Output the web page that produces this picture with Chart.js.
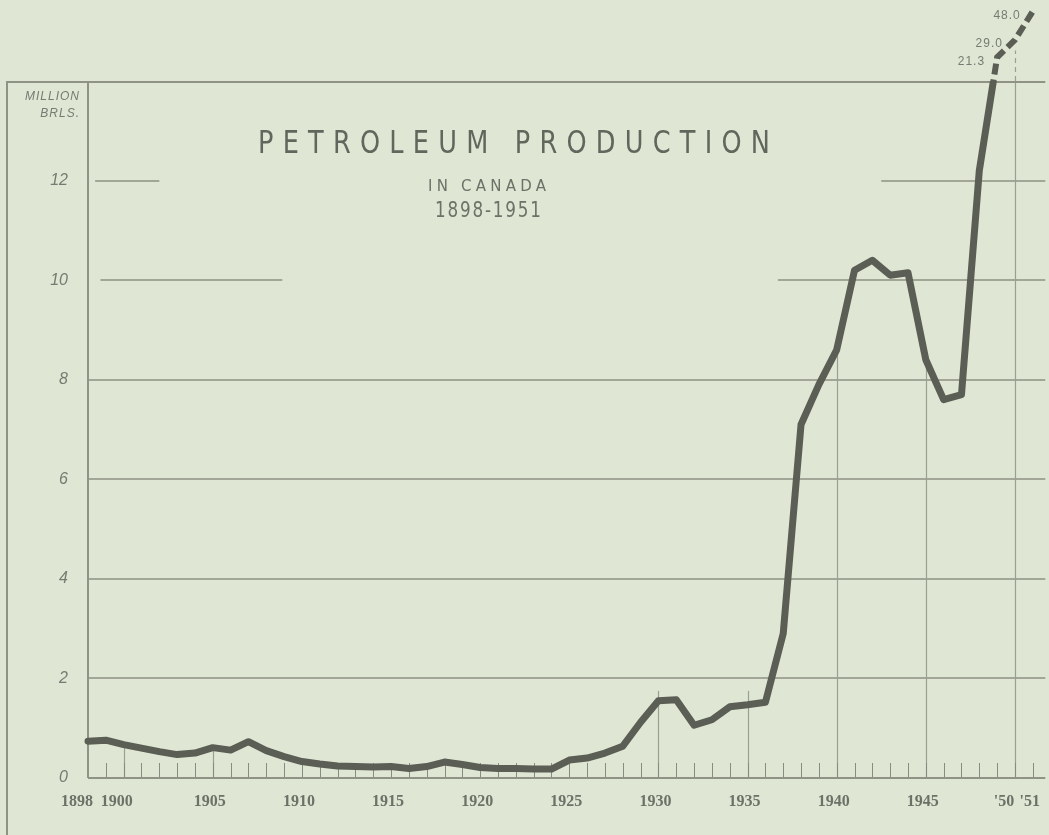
<!DOCTYPE html>
<html>
<head>
<meta charset="utf-8">
<script src="https://cdn.jsdelivr.net/npm/chart.js@4.4.1/dist/chart.umd.min.js"></script>
<style>
  html, body { margin: 0; padding: 0; background: #dfe6d3; }
  #wrap { width: 1049px; height: 835px; position: relative; }
</style>
</head>
<body>
<div id="wrap"><canvas id="chart"></canvas></div>
<script>
// Canadian petroleum output, million barrels
const years = [
  1898, 1899, 1900, 1901, 1902, 1903, 1904, 1905, 1906, 1907,
  1908, 1909, 1910, 1911, 1912, 1913, 1914, 1915, 1916, 1917,
  1918, 1919, 1920, 1921, 1922, 1923, 1924, 1925, 1926, 1927,
  1928, 1929, 1930, 1931, 1932, 1933, 1934, 1935, 1936, 1937,
  1938, 1939, 1940, 1941, 1942, 1943, 1944, 1945, 1946, 1947,
  1948, 1949, 1950, 1951
];
const output = [
  0.74, 0.76, 0.67, 0.60, 0.53, 0.47, 0.50, 0.61, 0.56, 0.73,
  0.55, 0.43, 0.33, 0.28, 0.24, 0.23, 0.22, 0.23, 0.19, 0.23,
  0.32, 0.27, 0.21, 0.19, 0.19, 0.18, 0.18, 0.36, 0.40, 0.50,
  0.64, 1.12, 1.55, 1.57, 1.06, 1.17, 1.43, 1.47, 1.52, 2.90,
  7.10, 7.90, 8.60, 10.20, 10.40, 10.10, 10.15, 8.40, 7.60, 7.70,
  12.20, 21.3, 29.0, 48.0
];
const xTickYears = [1898, 1900, 1905, 1910, 1915, 1920, 1925, 1930, 1935, 1940, 1945, 1950, 1951];
const yTicks = [0, 2, 4, 6, 8, 10, 12];
const breakYears = [1949, 1950, 1951];   // values shown off the top of the scale

// horizontal rules: [value, from year, to year]
const rules = [
  [2, 1898, 1951.7], [4, 1898, 1951.7], [6, 1898, 1951.7], [8, 1898, 1951.7],
  [10, 1898.7, 1908.9], [10, 1936.7, 1951.7],
  [12, 1898.4, 1902.0], [12, 1942.5, 1951.7]
];
// vertical rules: [year, up to value]
const yearRules = [[1900, 0.66], [1905, 0.6], [1930, 1.75], [1935, 1.75], [1940, 8.6], [1945, 8.35], [1950, 14]];

const BG = '#dfe6d3';
const INK = '#5a5e55';
const RULE = '#a1a697';
const TEXT = '#767b71';
const EN = '\u2002';

// linear up to max, squeezed (log) above it, like the drawn break at the top
class BrokenScale extends Chart.LinearScale {
  getPixelForValue(value) {
    if (value > this.max) return this.top - 130 * Math.log10(value / this.max);
    return super.getPixelForValue(value);
  }
}
BrokenScale.id = 'broken';
BrokenScale.defaults = Chart.LinearScale.defaults;
Chart.register(BrokenScale);

const points = years.map((yr, i) => ({ x: yr, y: output[i] }));

// narrow, letter-spaced text fitted to a width
function spread(ctx, text, cx, cy, width, squeeze) {
  ctx.save();
  ctx.translate(cx, cy);
  ctx.scale(squeeze, 1);
  ctx.letterSpacing = '0px';
  const target = width / squeeze;
  const w = ctx.measureText(text).width;
  const gap = Math.max(0, (target - w) / (text.length - 1));
  ctx.letterSpacing = gap + 'px';
  ctx.fillText(text, gap / 2, 0);
  ctx.restore();
}

const paper = {
  id: 'paper',
  beforeDraw(chart) {
    const { ctx, width, height } = chart;
    ctx.save();
    ctx.fillStyle = BG;
    ctx.fillRect(0, 0, width, height);
    ctx.restore();
  },
  beforeDatasetsDraw(chart) {
    const { ctx, scales: { x, y }, chartArea: a, height } = chart;
    ctx.save();
    ctx.strokeStyle = RULE;
    ctx.lineWidth = 2;
    rules.forEach(([v, from, to]) => {
      const py = Math.round(y.getPixelForValue(v));
      ctx.beginPath();
      ctx.moveTo(x.getPixelForValue(from), py);
      ctx.lineTo(Math.min(x.getPixelForValue(to), a.right), py);
      ctx.stroke();
    });

    ctx.strokeStyle = '#9aa091';
    ctx.lineWidth = 1.2;
    yearRules.forEach(([yr, v]) => {
      const px = Math.round(x.getPixelForValue(yr)) + 0.5;
      ctx.beginPath();
      ctx.moveTo(px, a.bottom);
      ctx.lineTo(px, y.getPixelForValue(v));
      ctx.stroke();
    });
    // dashed tail of the 1950 rule above the frame
    ctx.setLineDash([5, 4]);
    const p50 = Math.round(x.getPixelForValue(1950)) + 0.5;
    ctx.beginPath();
    ctx.moveTo(p50, y.getPixelForValue(14));
    ctx.lineTo(p50, y.getPixelForValue(24));
    ctx.stroke();
    ctx.setLineDash([]);

    // small year ticks rising from the axis
    ctx.strokeStyle = '#878c80';
    ctx.lineWidth = 1;
    years.slice(1).forEach(yr => {
      const px = Math.round(x.getPixelForValue(yr)) + 0.5;
      ctx.beginPath();
      ctx.moveTo(px, a.bottom);
      ctx.lineTo(px, a.bottom - 15);
      ctx.stroke();
    });

    // axes and frame
    ctx.strokeStyle = '#8e9386';
    ctx.lineWidth = 2;
    ctx.beginPath();
    ctx.moveTo(a.left, a.bottom);
    ctx.lineTo(a.right, a.bottom);
    ctx.moveTo(a.left, a.bottom);
    ctx.lineTo(a.left, a.top);
    ctx.moveTo(7, height);
    ctx.lineTo(7, a.top + 1);
    ctx.lineTo(a.right, a.top + 1);
    ctx.stroke();
    ctx.restore();
  },
  afterDraw(chart) {
    const { ctx, scales: { x, y } } = chart;
    ctx.save();
    ctx.textAlign = 'center';
    ctx.textBaseline = 'middle';
    ctx.fillStyle = '#62675d';
    ctx.font = '32px "DejaVu Sans", sans-serif';
    spread(ctx, 'PETROLEUM PRODUCTION', 514, 145, 512, 0.8);
    ctx.fillStyle = '#6d7268';
    ctx.font = '15px "DejaVu Sans", sans-serif';
    spread(ctx, 'IN CANADA', 487, 187, 118, 1);
    ctx.font = '21px "DejaVu Sans", sans-serif';
    spread(ctx, '1898-1951', 488, 212, 106, 0.8);

    ctx.letterSpacing = '1px';
    ctx.textAlign = 'right';
    ctx.fillStyle = TEXT;
    ctx.font = 'italic 12px "Liberation Sans", sans-serif';
    ctx.fillText('MILLION', 80, 97);
    ctx.fillText('BRLS.', 80, 114);

    ctx.font = '12px "Liberation Sans", sans-serif';
    breakYears.forEach(yr => {
      const v = output[years.indexOf(yr)];
      ctx.fillText(v.toFixed(1), x.getPixelForValue(yr) - 12, y.getPixelForValue(v) + 4);
    });
    ctx.restore();
  }
};

// tick text; trailing spaces nudge the crowded labels left, as on the original
const tickText = v => {
  if (v === 1898) return '1898' + EN + EN;
  if (v === 1900) return '1900' + EN;
  if (v === 1950) return "'50" + EN + EN;
  if (v === 1951) return "'51";
  return String(v);
};

new Chart(document.getElementById('chart'), {
  type: 'line',
  data: {
    datasets: [
      {
        data: points,
        borderColor: INK,
        borderWidth: 7,
        pointRadius: 0,
        tension: 0,
        borderJoinStyle: 'round',
        borderCapStyle: 'round',
        clip: { left: 4, right: 20, top: 0, bottom: 10 }
      },
      {
        data: points,
        borderColor: INK,
        borderWidth: 6,
        pointRadius: 0,
        tension: 0,
        borderDash: [11, 5],
        clip: { left: 0, right: 20, top: 90, bottom: -697 }
      }
    ]
  },
  options: {
    responsive: true,
    maintainAspectRatio: false,
    animation: false,
    layout: { padding: { top: 81, left: 0, right: 0, bottom: 0 } },
    plugins: { legend: { display: false }, tooltip: { enabled: false }, title: { display: false } },
    scales: {
      x: {
        type: 'linear',
        min: 1898,
        max: 1951.7,
        afterBuildTicks: s => { s.ticks = xTickYears.map(v => ({ value: v })); },
        afterFit: s => { s.height = 57; },
        grid: { display: false },
        border: { display: false },
        ticks: {
          autoSkip: false,
          maxRotation: 0,
          minRotation: 0,
          padding: 6,
          labelOffset: -3,
          color: '#6d7268',
          font: { family: '"Liberation Serif", serif', weight: 'bold', size: 16 },
          callback: tickText
        }
      },
      y: {
        type: 'broken',
        min: 0,
        max: 14,
        afterBuildTicks: s => { s.ticks = yTicks.map(v => ({ value: v })); },
        afterFit: s => { s.width = 88; },
        grid: { display: false },
        border: { display: false },
        ticks: {
          padding: 12,
          color: TEXT,
          font: { family: '"Liberation Sans", sans-serif', style: 'italic', size: 16 }
        }
      }
    }
  },
  plugins: [paper]
});
</script>
</body>
</html>
